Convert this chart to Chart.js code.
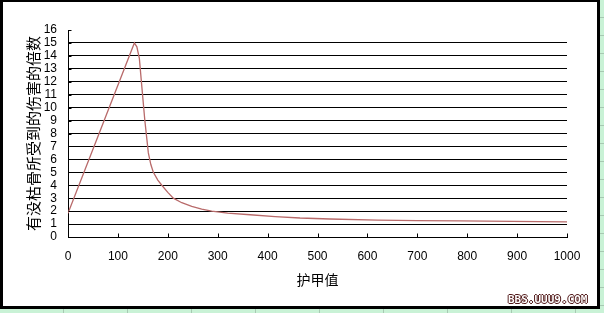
<!DOCTYPE html>
<html>
<head>
<meta charset="utf-8">
<script src="https://cdn.jsdelivr.net/npm/chart.js@4"></script>
<style>
  html, body { margin: 0; padding: 0; }
  body {
    width: 604px; height: 313px; overflow: hidden; position: relative;
    background-color: #c9f2d6;
    background-image:
      repeating-linear-gradient(to right, transparent 0, transparent 63px, #a7c9b2 63px, #a7c9b2 64px),
      repeating-linear-gradient(to bottom, transparent 0, transparent 17px, #a7c9b2 17px, #a7c9b2 18px);
  }
  #frame {
    position: absolute; left: 0; top: 0; width: 600px; height: 309px;
    box-sizing: border-box; border: 3px solid #000; border-top-width: 2px; background: #fff;
  }
  #wrap { position: absolute; left: 0; top: 0; width: 604px; height: 313px; }
  #wm {
    position: absolute; left: 508px; top: 293px; font: bold 11px "DejaVu Sans Mono", monospace;
    color: #fff; letter-spacing: 0px; line-height: 13px; white-space: nowrap;
    text-shadow: 1px 0 0 #501818, -1px 0 0 #501818, 0 1px 0 #501818, 0 -1px 0 #501818;
  }
</style>
</head>
<body>
<div id="frame"></div>
<div id="wrap"><canvas id="c" width="604" height="313"></canvas></div>
<div id="wm">BBS.UUU9.COM</div>
<script>
// Data
const armorValues = [0, 133, 138, 143, 148, 154, 161, 166, 171, 180, 188, 200, 211, 228, 248, 268, 288, 320, 365, 415, 465, 525, 620, 700, 785, 890, 1000];
const damageMultiplier = [1.83, 15.0, 14.7, 13.8, 11.6, 9.0, 6.5, 5.6, 5.0, 4.4, 4.0, 3.45, 3.0, 2.65, 2.36, 2.16, 2.0, 1.85, 1.72, 1.58, 1.47, 1.39, 1.31, 1.27, 1.24, 1.2, 1.17];
const xTickLabels = ['0', '100', '200', '300', '400', '500', '600', '700', '800', '900', '1000'];
const xTitle = '护甲值';
const yTitle = '有没枯骨所受到的伤害的倍数';

const points = armorValues.map((x, i) => ({ x: x, y: damageMultiplier[i] }));

const innerTicks = {
  id: 'innerTicks',
  afterDraw(chart) {
    const ctx = chart.ctx;
    const xs = chart.scales.x, ys = chart.scales.y;
    ctx.save();
    ctx.strokeStyle = '#000';
    ctx.lineWidth = 1;
    ctx.beginPath();
    xs.ticks.forEach(t => {
      const px = Math.round(xs.getPixelForValue(t.value)) + 0.5;
      const py = Math.round(ys.getPixelForValue(0)) + 0.5;
      ctx.moveTo(px, py);
      ctx.lineTo(px, py - 4);
    });
    ys.ticks.forEach(t => {
      const py = Math.round(ys.getPixelForValue(t.value)) + 0.5;
      const px = Math.round(xs.getPixelForValue(0)) + 0.5;
      ctx.moveTo(px, py);
      ctx.lineTo(px + 3, py);
    });
    ctx.stroke();
    ctx.restore();
  }
};

new Chart(document.getElementById('c'), {
  type: 'line',
  data: {
    datasets: [{
      data: points,
      borderColor: '#b86a6a',
      borderWidth: 1.3,
      pointRadius: 0,
      tension: 0,
      fill: false
    }]
  },
  options: {
    responsive: false,
    animation: false,
    devicePixelRatio: 1,
    layout: { padding: { top: 30, right: 37, left: 0, bottom: 0 } },
    plugins: { legend: { display: false }, tooltip: { enabled: false } },
    scales: {
      x: {
        type: 'linear', min: 0, max: 1000,
        afterFit(s) { s.height = 76; },
        ticks: { stepSize: 100, padding: 12, color: '#000', maxRotation: 0, autoSkip: false,
                 callback: (v, i) => xTickLabels[i],
                 font: { family: '"Liberation Sans", Arial, sans-serif', size: 12 } },
        grid: { drawOnChartArea: false, drawTicks: false },
        border: { display: true, color: '#000', width: 1 },
        title: { display: true, text: xTitle, color: '#000', padding: { top: 24.6, bottom: 24.6 },
                 font: { family: '"Noto Sans CJK SC", sans-serif', size: 14 } }
      },
      y: {
        min: 0, max: 16,
        afterFit(s) { s.width = 68; },
        ticks: { stepSize: 1, padding: 11, color: '#000', autoSkip: false,
                 font: { family: '"Liberation Sans", Arial, sans-serif', size: 12 } },
        grid: { drawTicks: false, lineWidth: 1,
                color: ctx => (ctx.tick && (ctx.tick.value === 0 || ctx.tick.value === 16)) ? 'rgba(0,0,0,0)' : '#000' },
        border: { display: true, color: '#000', width: 1 },
        title: { display: true, text: yTitle, color: '#000', padding: { top: 24, bottom: 24 },
                 font: { family: '"Noto Sans CJK SC", sans-serif', size: 15 } }
      }
    }
  },
  plugins: [innerTicks]
});
</script>
</body>
</html>
